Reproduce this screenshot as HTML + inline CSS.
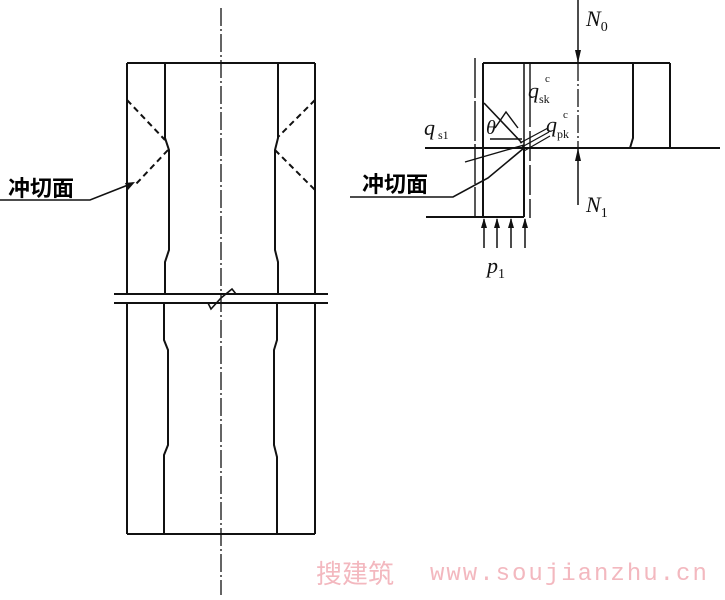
<!DOCTYPE html>
<html><head><meta charset="utf-8"><style>
html,body{margin:0;padding:0;background:#fff;}
svg{display:block;}
.t{font-family:"Liberation Serif",serif;font-style:italic;}
.c{font-family:"Liberation Sans","Noto Sans CJK SC",sans-serif;font-weight:bold;}
</style></head><body>
<svg width="725" height="600" viewBox="0 0 725 600" xmlns="http://www.w3.org/2000/svg">
<g stroke="#111" stroke-width="2" fill="none">
<line x1="127" y1="63" x2="315" y2="63"/>
<line x1="127" y1="63" x2="127" y2="294"/>
<line x1="315" y1="63" x2="315" y2="294"/>
<line x1="127" y1="303" x2="127" y2="534"/>
<line x1="315" y1="303" x2="315" y2="534"/>
<line x1="127" y1="534" x2="315" y2="534"/>
<polyline points="165,63 165,138 169,150 169,250 165,262 165,294"/>
<polyline points="278,63 278,138 275,150 275,250 278,262 278,294"/>
<polyline points="164,303 164,340 168,350 168,445 164,455 164,534"/>
<polyline points="277,303 277,340 274,350 274,445 277,457 277,534"/>
<line x1="114" y1="294" x2="328" y2="294"/>
<line x1="114" y1="303" x2="328" y2="303"/>
<polyline points="208,303 211,309 221,298 232,289 236,294" stroke-width="1.6"/>
<line x1="221" y1="8" x2="221" y2="595" stroke-width="1.3" stroke-dasharray="18,3,2,3"/>
<g stroke-dasharray="6,4">
<line x1="127" y1="100" x2="165" y2="140"/>
<line x1="168" y1="150" x2="136" y2="184"/>
<line x1="315" y1="100" x2="278" y2="137"/>
<line x1="275" y1="150" x2="315" y2="190"/>
</g>
<polyline points="0,200 90,200 133,183" stroke-width="1.6"/>
<line x1="483" y1="63" x2="670" y2="63"/>
<line x1="483" y1="63" x2="483" y2="217"/>
<line x1="524" y1="63" x2="524" y2="148" stroke-width="1.5"/>
<line x1="524" y1="148" x2="524" y2="217"/>
<line x1="670" y1="63" x2="670" y2="148"/>
<polyline points="633,63 633,138 630,148"/>
<line x1="425" y1="148" x2="720" y2="148"/>
<line x1="426" y1="217" x2="524" y2="217"/>
<line x1="475" y1="58" x2="475" y2="218" stroke-width="1.4" stroke-dasharray="40,3"/>
<line x1="530" y1="63" x2="530" y2="218" stroke-width="1.4" stroke-dasharray="30,4"/>
<line x1="578" y1="0" x2="578" y2="63" stroke-width="1.5"/>
<line x1="578" y1="63" x2="578" y2="148" stroke-width="1.3" stroke-dasharray="18,3,2,3"/>
<line x1="578" y1="148" x2="578" y2="205" stroke-width="1.5"/>
<line x1="484" y1="103" x2="522" y2="143" stroke-width="1.6"/>
<polyline points="495,128 506,112 518,128" stroke-width="1.4"/>
<line x1="490" y1="139" x2="522" y2="139" stroke-width="1.4"/>
<line x1="465" y1="162" x2="524" y2="145" stroke-width="1.4"/>
<line x1="520" y1="143" x2="548" y2="128" stroke-width="1.2"/>
<line x1="522" y1="147" x2="549" y2="132" stroke-width="1.2"/>
<line x1="524" y1="151" x2="550" y2="136" stroke-width="1.2"/>
<polyline points="350,197 453,197 488,178 524,148" stroke-width="1.6"/>
<g stroke-width="1.5">
<line x1="484" y1="219" x2="484" y2="248"/>
<line x1="497" y1="219" x2="497" y2="248"/>
<line x1="511" y1="219" x2="511" y2="248"/>
<line x1="525" y1="219" x2="525" y2="248"/>
</g>
</g>
<g fill="#111">
<polygon points="578,63 575,50 581,50"/>
<polygon points="578,148 575,161 581,161"/>
<polygon points="484,218 481,228 487,228"/>
<polygon points="497,218 494,228 500,228"/>
<polygon points="511,218 508,228 514,228"/>
<polygon points="525,218 522,228 528,228"/>
<polygon points="135,182 125,183 128,190"/>
</g>
<text class="c" x="8" y="196" font-size="22">冲切面</text>
<text class="c" x="362" y="192" font-size="22">冲切面</text>
<g class="t" fill="#111">
<text x="586" y="26" font-size="22">N<tspan font-style="normal" font-size="14" dy="5">0</tspan></text>
<text x="586" y="212" font-size="22">N<tspan font-style="normal" font-size="14" dy="5">1</tspan></text>
<text x="487" y="273" font-size="22">p<tspan font-style="normal" font-size="14" dy="5">1</tspan></text>
<text x="424" y="135" font-size="22">q<tspan font-style="normal" font-size="12" dx="3" dy="4">s1</tspan></text>
<text x="486" y="134" font-size="20">θ</text>
<text x="528" y="98" font-size="22">q<tspan font-style="normal" font-size="12" dy="5">sk</tspan></text>
<text x="545" y="82" font-style="normal" font-size="11">c</text>
<text x="546" y="132" font-size="22">q<tspan font-style="normal" font-size="12" dy="6">pk</tspan></text>
<text x="563" y="118" font-style="normal" font-size="11">c</text>
</g>
<text x="316" y="583" font-size="26" fill="#f3b8bf" font-family="'Noto Sans CJK SC',sans-serif">搜建筑</text>
<text x="430" y="580" font-size="24" letter-spacing="2" fill="#f3b8bf" font-family="'Liberation Mono',monospace">www.soujianzhu.cn</text>
</svg>
</body></html>
